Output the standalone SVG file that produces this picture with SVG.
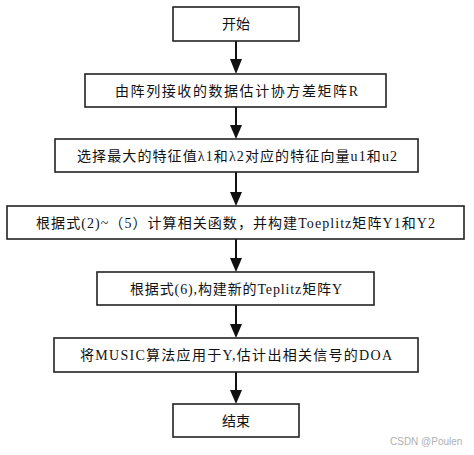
<svg xmlns="http://www.w3.org/2000/svg" width="474" height="455" viewBox="0 0 474 455">
<style>
.box{fill:#fff;stroke:#222;stroke-width:1.6}
.t{font-family:"Liberation Serif","Noto Sans CJK SC",serif;font-size:14px;fill:#111}
.c{stroke:#111;stroke-width:2;fill:none}
.wm{font-family:"Liberation Sans","Noto Sans",sans-serif;font-size:10px;fill:#b0b0b0}
</style>
<defs>
<marker id="ah" viewBox="0 0 12 14" refX="6" refY="14" markerWidth="12" markerHeight="14" markerUnits="userSpaceOnUse" orient="auto-start-reverse">
<path d="M0,0 L12,0 L6,14 Z" fill="#111"/>
</marker>
</defs>
<rect width="474" height="455" fill="#fff"/>
<g id="connectors">
<line class="c" x1="236" y1="41" x2="236" y2="59"/><path d="M230,59 L242,59 L236,74 Z" fill="#111"/>
<line class="c" x1="236" y1="107" x2="236" y2="125"/><path d="M230,125 L242,125 L236,139 Z" fill="#111"/>
<line class="c" x1="236" y1="172" x2="236" y2="192"/><path d="M230,192 L242,192 L236,206 Z" fill="#111"/>
<line class="c" x1="236" y1="239" x2="236" y2="258"/><path d="M230,258 L242,258 L236,272 Z" fill="#111"/>
<line class="c" x1="236" y1="305" x2="236" y2="324"/><path d="M230,324 L242,324 L236,338 Z" fill="#111"/>
<line class="c" x1="236" y1="372" x2="236" y2="390"/><path d="M230,390 L242,390 L236,404 Z" fill="#111"/>
</g>
<g id="n1"><rect class="box" x="173" y="7" width="126" height="34"/><text class="t" x="222" y="29" textLength="28" lengthAdjust="spacing">开始</text></g>
<g id="n2"><rect class="box" x="85" y="74" width="301" height="33"/><text class="t" x="115" y="96" textLength="243" lengthAdjust="spacing">由阵列接收的数据估计协方差矩阵R</text></g>
<g id="n3"><rect class="box" x="55" y="139" width="363" height="33"/><text class="t" x="77" y="161" textLength="320" lengthAdjust="spacing">选择最大的特征值λ1和λ2对应的特征向量u1和u2</text></g>
<g id="n4"><rect class="box" x="7" y="206" width="457" height="33"/><text class="t" x="36" y="228" textLength="399" lengthAdjust="spacing">根据式(2)~（5）计算相关函数，并构建Toeplitz矩阵Y1和Y2</text></g>
<g id="n5"><rect class="box" x="97" y="272" width="277" height="33"/><text class="t" x="130" y="294" textLength="212" lengthAdjust="spacing">根据式(6),构建新的Teplitz矩阵Y</text></g>
<g id="n6"><rect class="box" x="54" y="338" width="364" height="34"/><text class="t" x="80" y="360" textLength="312" lengthAdjust="spacing">将MUSIC算法应用于Y,估计出相关信号的DOA</text></g>
<g id="n7"><rect class="box" x="173" y="404" width="126" height="33"/><text class="t" x="222" y="426" textLength="28" lengthAdjust="spacing">结束</text></g>
<text class="wm" x="390" y="445">CSDN @Poulen</text>
</svg>
